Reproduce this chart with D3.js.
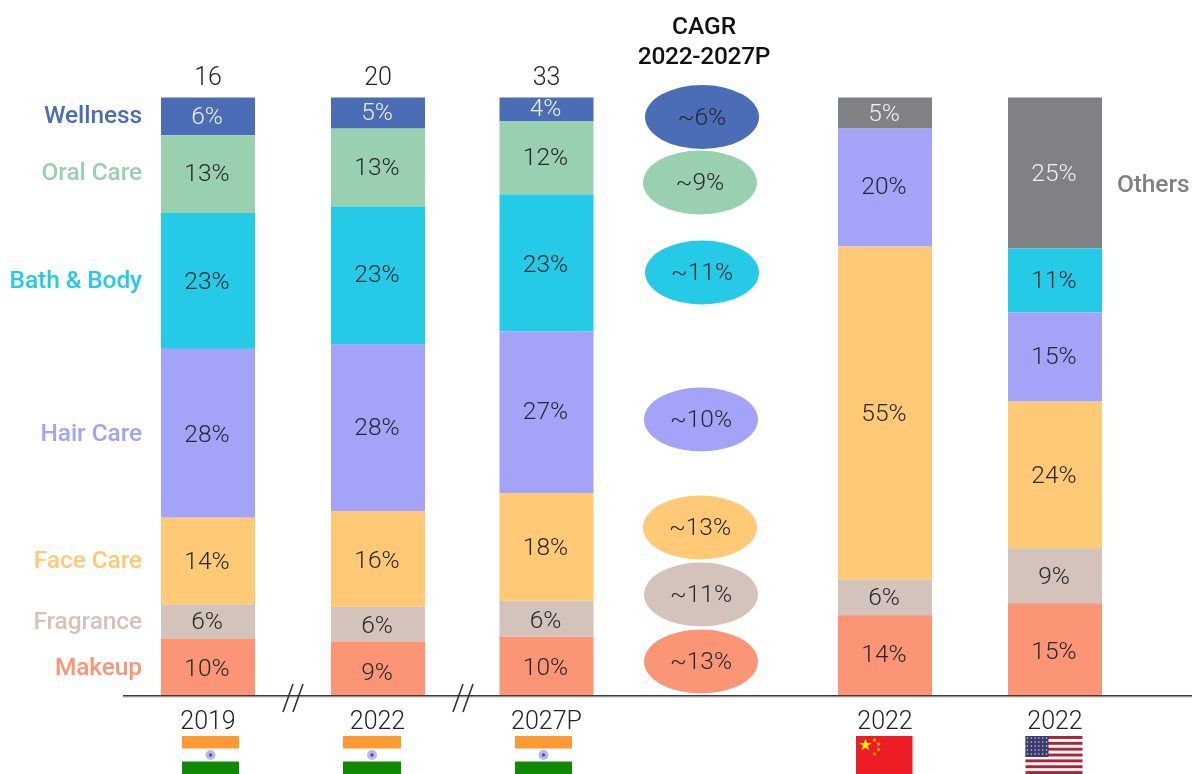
<!DOCTYPE html>
<html><head><meta charset="utf-8">
<script src="https://d3js.org/d3.v7.min.js"></script>
<style>
html,body{margin:0;padding:0;background:#fff;overflow:hidden}
svg{display:block;filter:blur(0.5px)}
text{font-family:Roboto,sans-serif}
</style></head><body>
<svg id="chart" width="1192" height="774"></svg>
<script>
// ---- data ----
const categories = ["Wellness","Oral Care","Bath & Body","Hair Care","Face Care","Fragrance","Makeup","Others"];
const columns = ["India 2019","India 2022","India 2027P","China 2022","USA 2022"];
const columnYears = ["2019","2022","2027P","2022","2022"];
const marketTotals = ["16","20","33"];
const india2019 = [6.3,13,22.7,28.2,14.5,5.7,9.5,0];
const india2022 = [5.2,13,23,27.9,16,5.8,9.1,0];
const india2027 = [4,12.2,22.9,27,18,6,9.9,0];
const china2022 = [0,0,0,19.7,55.6,6,13.5,5.2];
const usa2022   = [0,0,10.7,14.9,24.5,9.2,15.5,25.2];
const india2019Labels = ["6%","13%","23%","28%","14%","6%","10%",""];
const india2022Labels = ["5%","13%","23%","28%","16%","6%","9%",""];
const india2027Labels = ["4%","12%","23%","27%","18%","6%","10%",""];
const china2022Labels = ["","","","20%","55%","6%","14%","5%"];
const usa2022Labels   = ["","","11%","15%","24%","9%","15%","25%"];
const cagrLabels = ["~6%","~9%","~11%","~10%","~13%","~11%","~13%"];

// ---- layout & style ----
const colors = ["#4a6db5","#98d0b0","#25cbe6","#a3a3f7","#ffc976","#d4c3ba","#fb9575","#808184"];
const barLeft = [161,331,499.5,838,1008];
const barW = 94;
const stackOrderIndia = [0,1,2,3,4,5,6,7];
const stackOrderChina = [7,0,1,2,3,4,5,6];
const stackOrderUsa = [7,2,3,4,5,6,0,1];
const legendY = [114,171,279,432,559,620,666];
const labelNudge = [[-1,-2,-1,0,-1,-1,0,0],[-2,-1,-2,-1,0,0,2,0],[-2,-2,0,-2,-1,0,0,0],[0,0,0,-2,-1,-1,-2,-1],[0,0,-1,-2,-1,-1,1,-1]];
const cagrCx = [702,700,702,701,700,701,701];
const cagrCy = [117,182.5,272.5,419.5,527.5,594.5,661.5];
const cagrRx = 57, cagrRy = 32;
const y = d3.scaleLinear().domain([0,100]).range([696,97.5]);

const svg = d3.select("#chart");
const series = [india2019,india2022,india2027,china2022,usa2022];
const labelSets = [india2019Labels,india2022Labels,india2027Labels,china2022Labels,usa2022Labels];
const orders = [stackOrderIndia,stackOrderIndia,stackOrderIndia,stackOrderChina,stackOrderUsa];

series.forEach((vals,c)=>{
  let top = 100;
  const g = svg.append("g");
  orders[c].forEach(i=>{
    const v = vals[i]; if(!v) return;
    const next = top - v;
    g.append("rect").attr("x",barLeft[c]).attr("width",barW)
      .attr("y",y(top)).attr("height",y(next)-y(top)).attr("fill",colors[i]);
    g.append("text").attr("x",barLeft[c]+barW/2-1).attr("y",(y(top)+y(next))/2+labelNudge[c][i])
      .attr("dy","0.36em").attr("text-anchor","middle").attr("font-size",24.5).attr("font-weight",300)
      .attr("fill",(i===0||i===7)?"#eef0f8":"#24282f").text(labelSets[c][i]);
    top = next;
  });
  svg.append("text").attr("x",barLeft[c]+barW/2-(c===1?0.5:0)).attr("y",729).attr("text-anchor","middle")
    .attr("font-size",25).attr("font-weight",300).attr("fill","#222").text(columnYears[c]);
  if(c<3) svg.append("text").attr("x",barLeft[c]+barW/2).attr("y",85).attr("text-anchor","middle")
    .attr("font-size",25).attr("font-weight",300).attr("fill","#222").text(marketTotals[c]);
});

// axis
svg.append("line").attr("x1",123).attr("x2",1192).attr("y1",697.2).attr("y2",697.2).attr("stroke","#ccc").attr("stroke-width",1);
svg.append("line").attr("x1",123).attr("x2",1192).attr("y1",695.8).attr("y2",695.8).attr("stroke","#3c3c3c").attr("stroke-width",1.6);
[283,453].forEach(bx=>{
  [0,10].forEach(o=>{
    svg.append("line").attr("x1",bx+o).attr("y1",712).attr("x2",bx+o+10).attr("y2",684).attr("stroke","#333").attr("stroke-width",1.6);
  });
});

// legend
categories.slice(0,7).forEach((c,i)=>{
  svg.append("text").attr("x",142).attr("y",legendY[i]).attr("dy","0.36em").attr("text-anchor","end")
    .attr("font-size",24.5).attr("font-weight",500).attr("letter-spacing","-0.1px").attr("fill",colors[i]).text(c);
});
svg.append("text").attr("x",1117).attr("y",183).attr("dy","0.36em")
  .attr("font-size",24.5).attr("font-weight",500).attr("letter-spacing","-0.1px").attr("fill",colors[7]).text(categories[7]);

// CAGR
svg.append("text").attr("x",704).attr("y",34).attr("text-anchor","middle").attr("font-size",24.5).attr("font-weight",500).attr("fill","#111").text("CAGR");
svg.append("text").attr("x",704).attr("y",64).attr("text-anchor","middle").attr("font-size",24.5).attr("font-weight",500).attr("letter-spacing","-0.3px").attr("fill","#111").text("2022-2027P");
cagrLabels.forEach((t,i)=>{
  svg.append("ellipse").attr("cx",cagrCx[i]).attr("cy",cagrCy[i]).attr("rx",cagrRx).attr("ry",cagrRy).attr("fill",colors[i]);
  svg.append("text").attr("x",cagrCx[i]).attr("y",cagrCy[i]-1).attr("dy","0.36em").attr("text-anchor","middle")
    .attr("font-size",24.5).attr("font-weight",300).attr("fill","#24282f").text(t);
});

// flags
function india(x,w){
  svg.append("rect").attr("x",x).attr("y",736).attr("width",w).attr("height",12.5).attr("fill","#ff9933");
  svg.append("rect").attr("x",x).attr("y",761.5).attr("width",w).attr("height",12.5).attr("fill","#128807");
  svg.append("circle").attr("cx",x+w/2).attr("cy",755).attr("r",5).attr("fill","#b9b9e6");
  svg.append("circle").attr("cx",x+w/2).attr("cy",755).attr("r",1.7).attr("fill","#4b4bb0");
}
india(182,57); india(343,58); india(515,57);

// China
const cx0=856;
svg.append("rect").attr("x",cx0).attr("y",736).attr("width",56.5).attr("height",38).attr("fill","#ee1c25");
const star = d3.symbol().type(d3.symbolStar);
svg.append("path").attr("d",star.size(50)()).attr("transform",`translate(${cx0+9.5},${745})`).attr("fill","#ffee00");
[[18.5,740],[22.5,744],[22.5,749.5],[18.5,754]].forEach(p=>{
  svg.append("path").attr("d",star.size(7)()).attr("transform",`translate(${cx0+p[0]},${p[1]})`).attr("fill","#ffbb00");
});

// USA
const ux=1025.5, uw=57;
svg.append("rect").attr("x",ux).attr("y",736).attr("width",uw).attr("height",38).attr("fill","#fff");
d3.range(7).forEach(k=>{
  svg.append("rect").attr("x",ux).attr("y",736+k*5.85).attr("width",uw).attr("height",2.93).attr("fill","#b22234");
});
svg.append("rect").attr("x",ux).attr("y",736).attr("width",23).attr("height",21).attr("fill","#3c3b6e");
d3.range(5).forEach(r=>d3.range(6).forEach(k=>{
  svg.append("circle").attr("cx",ux+2+k*3.8).attr("cy",738+r*4).attr("r",0.8).attr("fill","#ccccdd");
}));
</script>
</body></html>
